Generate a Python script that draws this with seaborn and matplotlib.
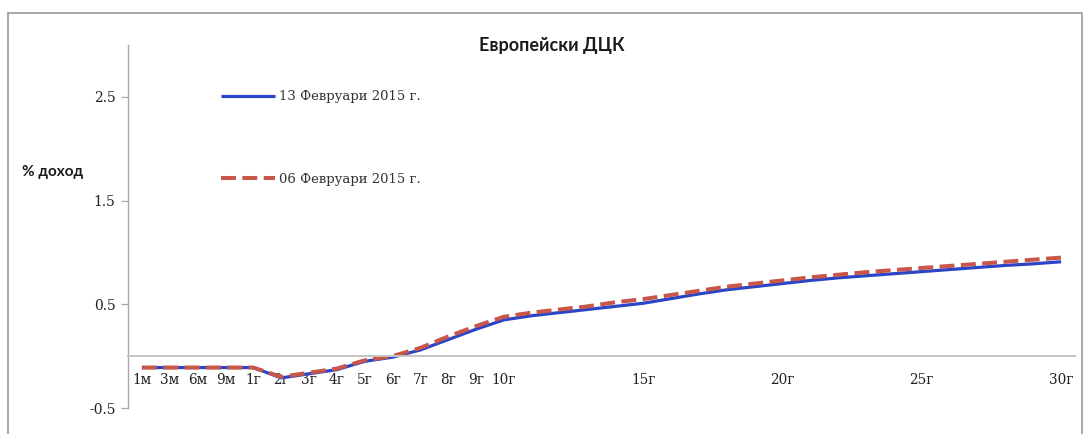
import matplotlib
matplotlib.use("Agg")
import matplotlib.pyplot as plt
from matplotlib.patches import Rectangle
import numpy as np
import pandas as pd
import seaborn as sns

# Maturities (category axis) and the labels shown under it
maturities = ["1м", "3м", "6м", "9м"] + [f"{y}г" for y in range(1, 31)]
shown_labels = ["1м", "3м", "6м", "9м", "1г", "2г", "3г", "4г", "5г", "6г",
                "7г", "8г", "9г", "10г", "15г", "20г", "25г", "30г"]

# Yield curves, % p.a.
yield_13feb = [-0.11, -0.11, -0.11, -0.11, -0.11, -0.21, -0.17, -0.13, -0.05, -0.01,
               0.06, 0.16, 0.26, 0.35, 0.39, 0.42, 0.45, 0.48, 0.51, 0.555,
               0.60, 0.64, 0.67, 0.70, 0.73, 0.755, 0.775, 0.795, 0.815, 0.835,
               0.855, 0.875, 0.89, 0.91]
yield_06feb = [-0.11, -0.11, -0.11, -0.11, -0.11, -0.20, -0.16, -0.12, -0.04, 0.00,
               0.08, 0.19, 0.29, 0.38, 0.42, 0.45, 0.48, 0.52, 0.55, 0.59,
               0.63, 0.67, 0.70, 0.73, 0.76, 0.785, 0.81, 0.83, 0.85, 0.87,
               0.89, 0.91, 0.93, 0.95]

series_names = ["13 Февруари 2015 г.", "06 Февруари 2015 г."]
y_ticks = [-0.5, 0.5, 1.5, 2.5]

df = pd.DataFrame({"maturity": maturities,
                   "pos": np.arange(len(maturities)),
                   "s1": yield_13feb,
                   "s2": yield_06feb})

sns.set_style("white")
plt.rcParams["font.family"] = ["DejaVu Serif"]

fig = plt.figure(figsize=(10.86, 4.34), dpi=100)
fig.patch.set_facecolor("white")
fig.patches.append(Rectangle((8 / 1086, -0.05), 1074 / 1086, 1.05 - 13 / 434,
                             transform=fig.transFigure, fill=False,
                             edgecolor="#9a9a9a", linewidth=1.2))

ax = fig.add_axes([128 / 1086, 1 - 408 / 434, 947 / 1086, 363 / 434])
ax.set_facecolor("white")

sns.lineplot(data=df, x="pos", y="s1", ax=ax, color="#2a45c8", linewidth=2.3,
             label=series_names[0], solid_capstyle="butt")
sns.lineplot(data=df, x="pos", y="s2", ax=ax, color="#c8574a", linewidth=2.9,
             label=series_names[1], dashes=(4.4, 3.4), linestyle="--")

ax.set_xlim(-0.5, len(maturities) - 0.5)
ax.set_ylim(-0.5, 3.0)

# x axis crosses at zero
for side in ["top", "right"]:
    ax.spines[side].set_visible(False)
ax.spines["bottom"].set_position(("data", 0))
ax.spines["bottom"].set_color("#c4c4c4")
ax.spines["bottom"].set_linewidth(1.4)
ax.spines["left"].set_color("#a8a8a8")
ax.spines["left"].set_linewidth(1.0)

tick_pos = [maturities.index(lbl) for lbl in shown_labels]
ax.set_xticks(tick_pos)
ax.set_xticklabels(shown_labels, fontsize=9.8, color="#222222")
ax.tick_params(axis="x", length=0, pad=12)

ax.set_yticks(y_ticks)
ax.set_yticklabels([f"{v:.1f}" for v in y_ticks], fontsize=10, color="#222222")
ax.tick_params(axis="y", direction="out", length=5, width=0.9, color="#a8a8a8",
               pad=4, left=True)

ax.set_xlabel("")
ax.set_ylabel("")

fig.text(552 / 1086, 1 - 45 / 434, "Европейски ДЦК", ha="center", va="center",
         fontsize=13, fontweight="bold", family="Lato", color="#1a1a1a")
fig.text(22 / 1086, 1 - 172 / 434, "% доход", ha="left", va="center",
         fontsize=11, fontweight="bold", family="Lato", color="#1a1a1a")

leg = ax.legend(loc="upper left", bbox_to_anchor=(88 / 947, 1 - 40 / 363),
                frameon=False, fontsize=9.5, handlelength=4.1, handletextpad=0.3,
                labelspacing=5.25, borderaxespad=0)
for t in leg.get_texts():
    t.set_color("#333333")

fig.savefig("out.png", dpi=100, facecolor="white")
